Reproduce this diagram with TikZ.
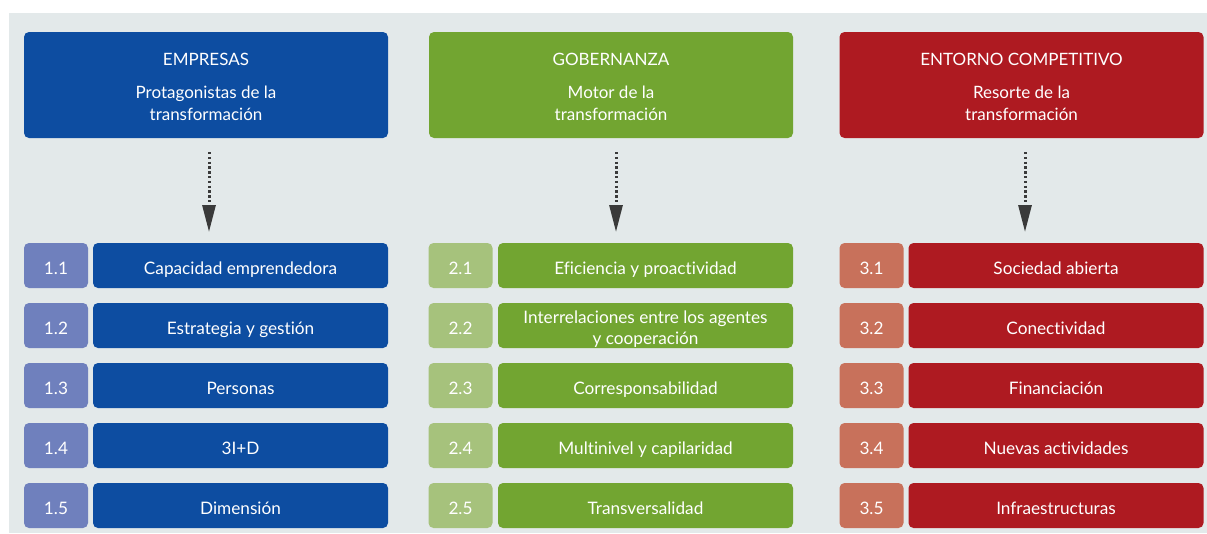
\documentclass[tikz,border=0pt]{standalone}
\usepackage{fontspec}
\setmainfont{Lato}[Ligatures=NoCommon]
\usetikzlibrary{arrows.meta}
\definecolor{bgc}{HTML}{E3E9EA}
\definecolor{cblue}{HTML}{0D4DA1}
\definecolor{lblue}{HTML}{6F80BD}
\definecolor{cgreen}{HTML}{72A531}
\definecolor{lgreen}{HTML}{A6C27C}
\definecolor{cred}{HTML}{AE1A21}
\definecolor{lred}{HTML}{C8715B}
\definecolor{arr}{HTML}{3A3A3A}
\newcommand{\lowerby}[2]{\raisebox{-#1}[\height][\depth]{\begin{tabular}{@{}c@{}}#2\end{tabular}}}
\tikzset{
  box/.style={rounded corners=5pt, inner sep=0pt, outer sep=0pt, text=white, align=center, font=\fontsize{17.2}{21}\selectfont},
  hdr/.style={box, minimum width=364pt, minimum height=106pt, font=\fontsize{17}{22}\selectfont},
  numbox/.style={box, minimum width=64pt, minimum height=45pt, text height=19.6pt, text depth=2.4pt},
  itembox/.style={box, minimum width=295pt, minimum height=45pt, text height=19.6pt, text depth=2.4pt},
  twoline/.style={box, minimum width=295pt, minimum height=45pt},
  flow/.style={draw=arr, line width=3pt, dash pattern=on 2.4pt off 2.4pt, -{Triangle[length=27pt,width=13pt,fill=arr]}}
}
\begin{document}
\begin{tikzpicture}[x=1pt,y=-1pt]
\useasboundingbox (0,0) rectangle (1207,533);
\fill[white] (0,0) rectangle (1207,533);
\fill[bgc] (9,13) rectangle (1207,533);
% headers
\node[hdr, fill=cblue] (h1) at (206,85) {\lowerby{4pt}{EMPRESAS\\[11pt]Protagonistas de la\\transformación}};
\node[hdr, fill=cgreen] (h2) at (611,85) {\lowerby{4pt}{GOBERNANZA\\[11pt]Motor de la\\transformación}};
\node[hdr, fill=cred] (h3) at (1021.5,85) {\lowerby{4pt}{ENTORNO COMPETITIVO\\[11pt]Resorte de la\\transformación}};
% arrows
\coordinate (a1s) at (209,152); \coordinate (a1e) at (209,232);
\coordinate (a2s) at (616,152); \coordinate (a2e) at (616,232);
\coordinate (a3s) at (1025,152); \coordinate (a3e) at (1025,232);
\draw[flow] (a1s) -- (a1e);
\draw[flow] (a2s) -- (a2e);
\draw[flow] (a3s) -- (a3e);
% column 1
\foreach \i/\t in {1/Capacidad emprendedora,2/Estrategia y gestión,3/Personas,4/3I+D,5/Dimensión}{
  \node[numbox, fill=lblue] (n1\i) at (56,{265.5+60*(\i-1)}) {1.\i};
  \node[itembox, fill=cblue] (t1\i) at (240.5,{265.5+60*(\i-1)}) {\t};
}
% column 2
\foreach \i/\t in {1/Eficiencia y proactividad,3/Corresponsabilidad,4/Multinivel y capilaridad,5/Transversalidad}{
  \node[itembox, fill=cgreen] (t2\i) at (645.5,{265.5+60*(\i-1)}) {\t};
}
\foreach \i in {1,...,5}{
  \node[numbox, fill=lgreen] (n2\i) at (460.5,{265.5+60*(\i-1)}) {2.\i};
}
\node[twoline, fill=cgreen] (t22) at (645.5,325.5) {\lowerby{4pt}{Interrelaciones entre los agentes\\y cooperación}};
% column 3
\foreach \i/\t in {1/Sociedad abierta,2/Conectividad,3/Financiación,4/Nuevas actividades,5/Infraestructuras}{
  \node[numbox, fill=lred] (n3\i) at (871.5,{265.5+60*(\i-1)}) {3.\i};
  \node[itembox, fill=cred] (t3\i) at (1056,{265.5+60*(\i-1)}) {\t};
}
\end{tikzpicture}
\end{document}
